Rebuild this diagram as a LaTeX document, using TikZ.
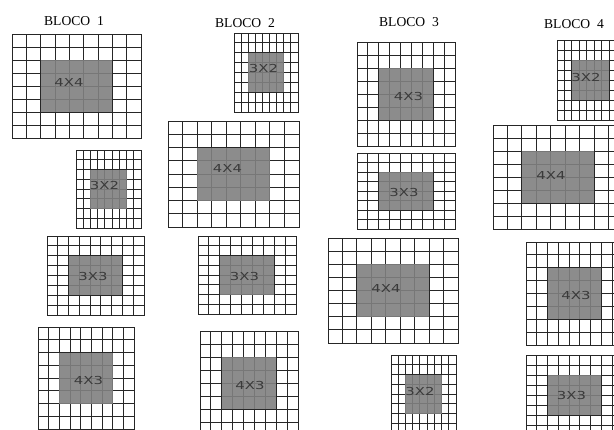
\documentclass[tikz,border=0pt]{standalone}
\usepackage{fontspec}
\usepackage{graphicx}
\setmainfont{Liberation Serif}
\newfontfamily\rotfont{DejaVu Sans}
\definecolor{cinza}{HTML}{808080}
\definecolor{textocinza}{HTML}{3A3A3A}

% grade 9x8 com miolo cinza: nome, x0, y0, x1, y1, texto, x e y do texto
\newcommand{\grade}[8]{%
  \foreach \i in {0,...,9}
    \draw[linha] ({#2+\i*(#4-#2)/9},#3) -- ({#2+\i*(#4-#2)/9},#5);
  \foreach \j in {0,...,8}
    \draw[linha] (#2,{#3+\j*(#5-#3)/8}) -- (#4,{#3+\j*(#5-#3)/8});
  \fill[miolo] ({#2+2*(#4-#2)/9},{#3+2*(#5-#3)/8}) rectangle ({#2+7*(#4-#2)/9},{#3+6*(#5-#3)/8});
  \node[rotulo] (#1) at (#7,#8) {\scalebox{1.35}[1]{#6}};
}

\begin{document}
\begin{tikzpicture}[
  x=1pt, y=-1pt,
  linha/.style={draw=black!85, line width=1pt, line cap=rect},
  miolo/.style={fill=cinza, fill opacity=0.9},
  rotulo/.style={font=\rotfont\fontsize{11}{12}\selectfont, text=textocinza, inner sep=0pt},
  titulo/.style={font=\fontsize{13.6}{15}\selectfont, inner sep=0pt}
]
\useasboundingbox (0,0) rectangle (614,429);
\clip (0,0) rectangle (614,429);

\node[titulo] (t1) at (74,21) {BLOCO~~1};
\node[titulo] (t2) at (245,23) {BLOCO~~2};
\node[titulo] (t3) at (409,22) {BLOCO~~3};
\node[titulo] (t4) at (574,24) {BLOCO~~4};

\grade{b1a}{12}{34}{141}{138}{4X4}{69}{82}
\grade{b1b}{76}{150}{141}{228}{3X2}{104.5}{185}
\grade{b1c}{47}{236}{144}{315}{3X3}{93}{276}
\grade{b1d}{38}{327}{134}{429}{4X3}{88.5}{380}

\grade{b2a}{234}{33}{298}{112}{3X2}{263.5}{68}
\grade{b2b}{168}{121}{299}{227}{4X4}{227.5}{168}
\grade{b2c}{198}{236}{296}{314}{3X3}{244.5}{276}
\grade{b2d}{200}{331}{298}{435}{4X3}{250}{385}

\grade{b3a}{357}{42}{455}{146}{4X3}{408.5}{96}
\grade{b3b}{357}{153}{455}{229}{3X3}{404}{192}
\grade{b3c}{328}{238}{458}{343}{4X4}{386}{288}
\grade{b3d}{391}{355}{456}{433}{3X2}{420}{391}

\grade{b4a}{557}{40}{624}{120}{3X2}{586}{77}
\grade{b4b}{493}{125}{623}{229}{4X4}{551}{175}
\grade{b4c}{526}{242}{623}{345}{4X3}{576}{295}
\grade{b4d}{526}{355}{623}{435}{3X3}{571.5}{395}

\end{tikzpicture}
\end{document}
